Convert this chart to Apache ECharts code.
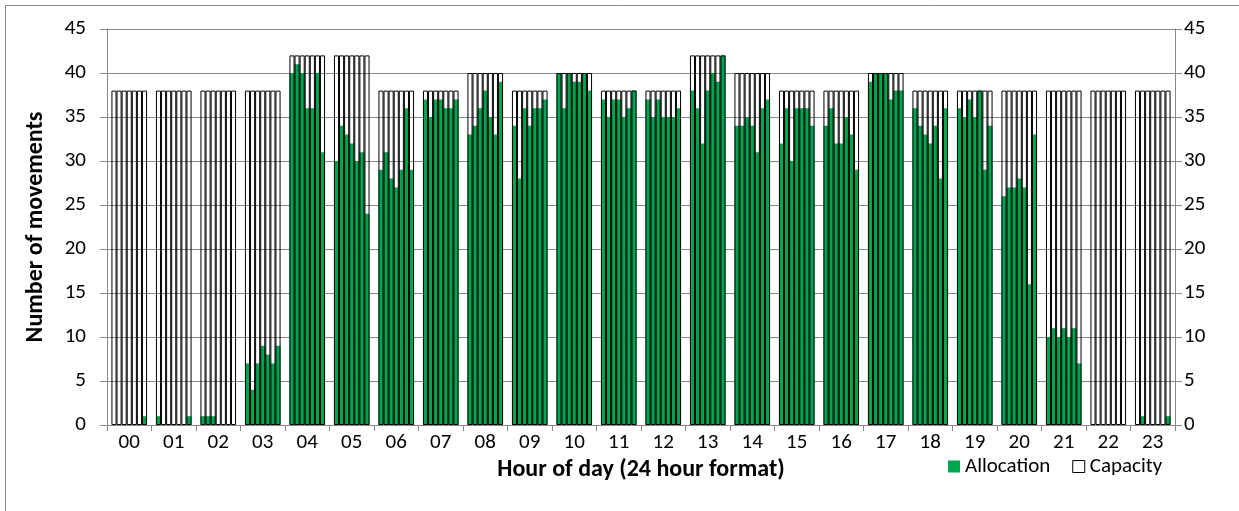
<!DOCTYPE html>
<html>
<head>
<meta charset="utf-8">
<script src="https://cdn.jsdelivr.net/npm/echarts@6/dist/echarts.min.js"></script>
<style>
html,body{margin:0;padding:0;background:#fff;}
#chart{width:1239px;height:511px;}
</style>
</head>
<body>
<div id="chart"></div>
<script>
// Hours of day (x-axis categories)
const hours = ['00','01','02','03','04','05','06','07','08','09','10','11','12','13','14','15','16','17','18','19','20','21','22','23'];
// Capacity per hour (same for each of the 7 days)
const capacity = [38,38,38,38,42,42,38,38,40,38,40,38,38,42,40,38,38,40,38,38,38,38,38,38];
// Allocation per day (7 days), one value per hour
const allocationDay1 = [0,1,1,7,40,30,29,37,33,34,40,37,37,38,34,32,34,39,36,36,26,10,0,0];
const allocationDay2 = [0,0,1,4,41,34,31,35,34,28,36,35,35,36,34,36,36,40,34,35,27,11,0,1];
const allocationDay3 = [0,0,1,7,40,33,28,37,36,36,40,37,37,32,35,30,32,40,33,37,27,10,0,0];
const allocationDay4 = [0,0,0,9,36,32,27,37,38,34,39,37,35,38,34,36,32,40,32,35,28,11,0,0];
const allocationDay5 = [0,0,0,8,36,30,29,36,35,36,39,35,35,40,31,36,35,37,34,38,27,10,0,0];
const allocationDay6 = [0,0,0,7,40,31,36,36,33,36,40,36,35,39,36,36,33,38,28,29,16,11,0,0];
const allocationDay7 = [1,1,0,9,31,24,29,37,39,37,38,38,36,42,37,34,29,38,36,34,33,7,0,1];
const yTicks = {min: 0, max: 45, interval: 5};
const xAxisTitle = 'Hour of day (24 hour format)';
const yAxisTitle = 'Number of movements';

const allocationDays = [allocationDay1, allocationDay2, allocationDay3, allocationDay4, allocationDay5, allocationDay6, allocationDay7];

const FONT = 'Carlito, Lato, "Liberation Sans", sans-serif';
const GREEN = '#00a550';
const LABEL_SIZE = 21;
const TITLE_SIZE = 24;

const series = [];
allocationDays.forEach(function (d) {
  series.push({
    name: 'Allocation', type: 'bar', xAxisIndex: 1, yAxisIndex: 0,
    data: d, barGap: '0%', barCategoryGap: '20%', z: 2,
    itemStyle: {color: GREEN}, emphasis: {disabled: true}
  });
});
allocationDays.forEach(function () {
  series.push({
    name: 'Capacity', type: 'bar', xAxisIndex: 0, yAxisIndex: 0,
    data: capacity, barGap: '0%', barCategoryGap: '20%', z: 3,
    itemStyle: {color: 'rgba(255,255,255,0)', borderColor: '#000', borderWidth: 1},
    emphasis: {disabled: true}
  });
});

const chart = echarts.init(document.getElementById('chart'), null, {renderer: 'canvas'});
chart.setOption({
  animation: false,
  backgroundColor: '#fff',
  textStyle: {fontFamily: FONT},
  graphic: [{
    type: 'rect', shape: {x: 5.5, y: 5.5, width: 1240, height: 520},
    style: {fill: null, stroke: '#8a8a8a', lineWidth: 1}, silent: true
  }],
  grid: {left: 107, right: 64, top: 29, bottom: 86, containLabel: false},
  legend: {
    left: 943, top: 451, itemWidth: 12, itemHeight: 12, itemGap: 22,
    icon: 'rect',
    textStyle: {fontFamily: FONT, fontSize: LABEL_SIZE, color: '#000'},
    data: [
      {name: 'Allocation', itemStyle: {color: GREEN}},
      {name: 'Capacity', itemStyle: {color: '#fff', borderColor: '#000', borderWidth: 1}}
    ]
  },
  xAxis: [{
    type: 'category', data: hours, position: 'bottom',
    name: xAxisTitle, nameLocation: 'middle', nameGap: 26,
    nameTextStyle: {fontFamily: FONT, fontSize: TITLE_SIZE, fontWeight: 'bold', color: '#000'},
    axisLine: {show: true, lineStyle: {color: '#888', width: 1}},
    axisTick: {show: true, length: 6, lineStyle: {color: '#888'}},
    axisLabel: {fontFamily: FONT, fontSize: LABEL_SIZE, color: '#000', margin: 7},
    splitLine: {show: false}
  }, {
    type: 'category', data: hours, show: false, position: 'bottom'
  }],
  yAxis: [{
    type: 'value', min: yTicks.min, max: yTicks.max, interval: yTicks.interval, position: 'left',
    name: yAxisTitle, nameLocation: 'middle', nameGap: 59, nameRotate: 90,
    nameTextStyle: {fontFamily: FONT, fontSize: TITLE_SIZE, fontWeight: 'bold', color: '#000'},
    axisLine: {show: true, lineStyle: {color: '#888', width: 1}},
    axisTick: {show: true, length: 7, lineStyle: {color: '#888'}},
    axisLabel: {fontFamily: FONT, fontSize: LABEL_SIZE, color: '#000', margin: 21},
    splitLine: {show: true, lineStyle: {color: '#888', width: 1}}
  }, {
    type: 'value', min: yTicks.min, max: yTicks.max, interval: yTicks.interval, position: 'right',
    axisLine: {show: true, lineStyle: {color: '#888', width: 1}},
    axisTick: {show: true, length: 7, lineStyle: {color: '#888'}},
    axisLabel: {fontFamily: FONT, fontSize: LABEL_SIZE, color: '#000', margin: 9},
    splitLine: {show: false}
  }],
  series: series
});
</script>
</body>
</html>
